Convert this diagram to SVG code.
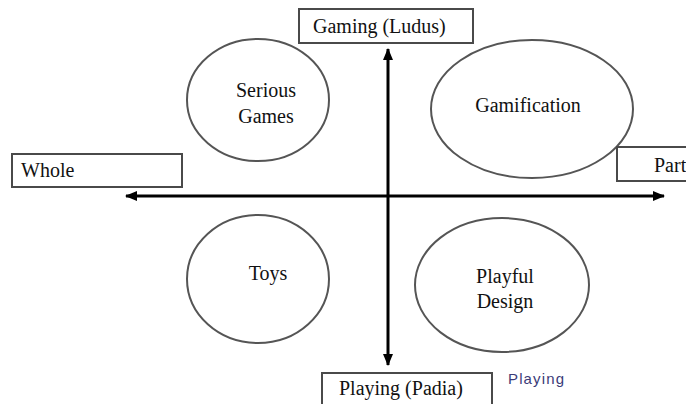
<svg xmlns="http://www.w3.org/2000/svg" width="686" height="404" viewBox="0 0 686 404">
<defs>
<style>
.box{fill:#fff;stroke:#4a4a4a;stroke-width:2}
.ell{fill:#fff;stroke:#555;stroke-width:2}
.t{font-family:"Liberation Serif","Times New Roman",serif;font-size:20px;fill:#111}
.ax{stroke:#000;stroke-width:3;fill:none}
</style>
<marker id="ah" viewBox="0 0 12 10" refX="11" refY="5" markerWidth="12" markerHeight="10" markerUnits="userSpaceOnUse" orient="auto">
<path d="M0,0 L12,5 L0,10 Z" fill="#000"/>
</marker>
</defs>
<rect width="686" height="404" fill="#fff"/>
<g id="serious-games">
<ellipse class="ell" cx="258" cy="100" rx="71" ry="61"/>
<text class="t" x="266" y="97" text-anchor="middle">Serious</text>
<text class="t" x="266" y="123" text-anchor="middle">Games</text>
</g>
<g id="gamification">
<ellipse class="ell" cx="532" cy="109" rx="101" ry="69"/>
<text class="t" x="528" y="112" text-anchor="middle">Gamification</text>
</g>
<g id="toys">
<ellipse class="ell" cx="258" cy="279" rx="71" ry="64"/>
<text class="t" x="268" y="280" text-anchor="middle">Toys</text>
</g>
<g id="playful-design">
<ellipse class="ell" cx="502" cy="285" rx="87" ry="67"/>
<text class="t" x="505" y="283" text-anchor="middle">Playful</text>
<text class="t" x="505" y="308" text-anchor="middle">Design</text>
</g>
<g id="connectors">
<line class="ax" x1="388" y1="196" x2="126" y2="196" marker-end="url(#ah)"/>
<line class="ax" x1="388" y1="196" x2="664" y2="196" marker-end="url(#ah)"/>
<line class="ax" x1="388" y1="196" x2="388" y2="49" marker-end="url(#ah)"/>
<line class="ax" x1="388" y1="196" x2="388" y2="365" marker-end="url(#ah)"/>
</g>
<g id="gaming-ludus">
<rect class="box" x="299" y="9" width="174" height="34"/>
<text class="t" x="313" y="33">Gaming (Ludus)</text>
</g>
<g id="whole">
<rect class="box" x="12" y="154" width="170" height="33"/>
<text class="t" x="21" y="177">Whole</text>
</g>
<g id="part">
<rect class="box" x="617" y="147" width="80" height="34"/>
<text class="t" x="654" y="172">Part</text>
</g>
<g id="playing-padia">
<rect class="box" x="322" y="373" width="170" height="40"/>
<text class="t" x="339" y="395">Playing (Padia)</text>
</g>
<g id="playing-label">
<text x="508" y="384" font-family="'Liberation Sans',Arial,sans-serif" font-size="15" fill="#3b3b78" textLength="56">Playing</text>
</g>
</svg>
